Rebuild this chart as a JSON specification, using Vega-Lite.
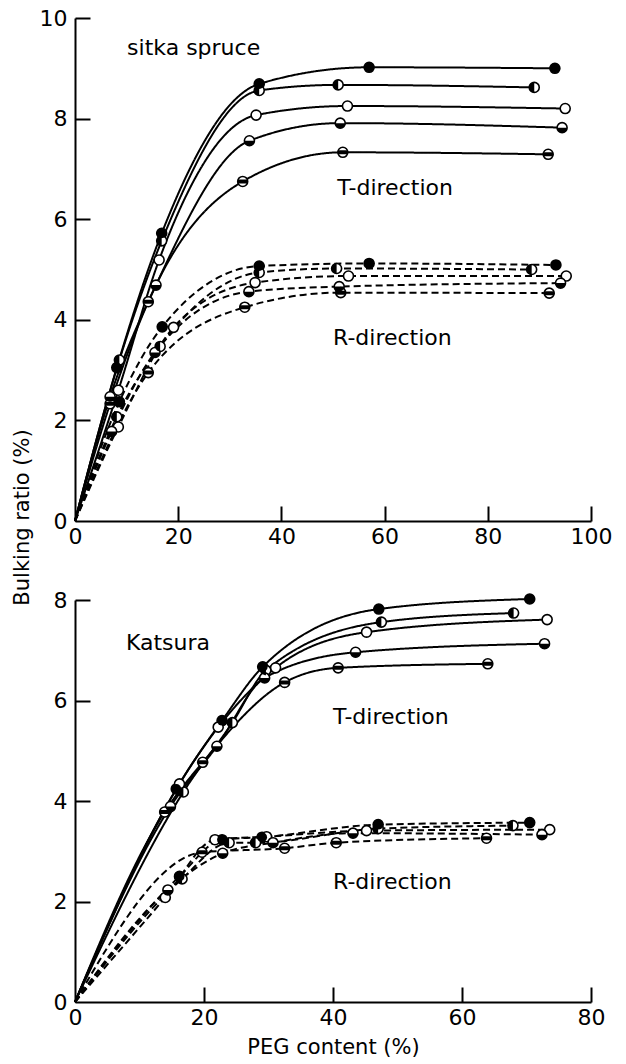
{
  "$schema": "https://vega.github.io/schema/vega-lite/v6.json",
  "autosize": {"type": "pad"},
  "padding": {"left": 11, "top": 7, "right": 5, "bottom": 5},
  "background": "white",
  "spacing": 79,
  "bounds": "flush",
  "config": {
    "view": {"stroke": null},
    "font": "DejaVu Sans",
    "axis": {
      "domainColor": "black", "domainWidth": 2, "tickColor": "black", "tickWidth": 2,
      "labelFontSize": 22, "labelColor": "black", "grid": false,
      "titleColor": "black", "titleFontSize": 21, "titleFontWeight": "normal",
      "labelFlush": false, "labelOverlap": false
    },
    "axisX": {"labelPadding": 5},
    "axisY": {"labelPadding": 8}
  },
  "datasets": {
    "top": [
      {"s": "T1", "d": "T", "m": "filled", "x": 0, "y": 0},
      {"s": "T1", "d": "T", "m": "filled", "x": 8.1, "y": 3.05},
      {"s": "T1", "d": "T", "m": "filled", "x": 16.8, "y": 5.72},
      {"s": "T1", "d": "T", "m": "filled", "x": 35.7, "y": 8.69},
      {"s": "T1", "d": "T", "m": "filled", "x": 57, "y": 9.02},
      {"s": "T1", "d": "T", "m": "filled", "x": 93, "y": 9.0},
      {"s": "T2", "d": "T", "m": "left", "x": 0, "y": 0},
      {"s": "T2", "d": "T", "m": "left", "x": 8.6, "y": 3.2},
      {"s": "T2", "d": "T", "m": "left", "x": 16.8, "y": 5.57},
      {"s": "T2", "d": "T", "m": "left", "x": 35.7, "y": 8.56},
      {"s": "T2", "d": "T", "m": "left", "x": 51, "y": 8.67},
      {"s": "T2", "d": "T", "m": "left", "x": 89, "y": 8.62},
      {"s": "T3", "d": "T", "m": "open", "x": 0, "y": 0},
      {"s": "T3", "d": "T", "m": "open", "x": 8.4, "y": 2.6},
      {"s": "T3", "d": "T", "m": "open", "x": 16.3, "y": 5.19},
      {"s": "T3", "d": "T", "m": "open", "x": 35.1, "y": 8.07},
      {"s": "T3", "d": "T", "m": "open", "x": 52.8, "y": 8.25},
      {"s": "T3", "d": "T", "m": "open", "x": 95, "y": 8.2},
      {"s": "T4", "d": "T", "m": "bottom", "x": 0, "y": 0},
      {"s": "T4", "d": "T", "m": "bottom", "x": 6.8, "y": 2.47},
      {"s": "T4", "d": "T", "m": "bottom", "x": 15.7, "y": 4.69},
      {"s": "T4", "d": "T", "m": "bottom", "x": 33.8, "y": 7.56},
      {"s": "T4", "d": "T", "m": "bottom", "x": 51.4, "y": 7.91},
      {"s": "T4", "d": "T", "m": "bottom", "x": 94.4, "y": 7.82},
      {"s": "T5", "d": "T", "m": "band", "x": 0, "y": 0},
      {"s": "T5", "d": "T", "m": "band", "x": 6.8, "y": 2.33},
      {"s": "T5", "d": "T", "m": "band", "x": 14.2, "y": 4.36},
      {"s": "T5", "d": "T", "m": "band", "x": 32.5, "y": 6.75},
      {"s": "T5", "d": "T", "m": "band", "x": 51.9, "y": 7.33},
      {"s": "T5", "d": "T", "m": "band", "x": 91.7, "y": 7.29},
      {"s": "R1", "d": "R", "m": "filled", "x": 0, "y": 0},
      {"s": "R1", "d": "R", "m": "filled", "x": 8.6, "y": 2.37},
      {"s": "R1", "d": "R", "m": "filled", "x": 16.9, "y": 3.86},
      {"s": "R1", "d": "R", "m": "filled", "x": 35.7, "y": 5.07},
      {"s": "R1", "d": "R", "m": "filled", "x": 57, "y": 5.12},
      {"s": "R1", "d": "R", "m": "filled", "x": 93.2, "y": 5.09},
      {"s": "R2", "d": "R", "m": "left", "x": 0, "y": 0},
      {"s": "R2", "d": "R", "m": "left", "x": 8.1, "y": 2.07},
      {"s": "R2", "d": "R", "m": "left", "x": 16.5, "y": 3.47},
      {"s": "R2", "d": "R", "m": "left", "x": 35.7, "y": 4.94},
      {"s": "R2", "d": "R", "m": "left", "x": 50.7, "y": 5.02},
      {"s": "R2", "d": "R", "m": "left", "x": 88.5, "y": 5.0},
      {"s": "R3", "d": "R", "m": "open", "x": 0, "y": 0},
      {"s": "R3", "d": "R", "m": "open", "x": 8.4, "y": 1.87},
      {"s": "R3", "d": "R", "m": "open", "x": 19.1, "y": 3.85},
      {"s": "R3", "d": "R", "m": "open", "x": 34.9, "y": 4.74},
      {"s": "R3", "d": "R", "m": "open", "x": 53, "y": 4.87},
      {"s": "R3", "d": "R", "m": "open", "x": 95.2, "y": 4.87},
      {"s": "R4", "d": "R", "m": "bottom", "x": 0, "y": 0},
      {"s": "R4", "d": "R", "m": "bottom", "x": 7.1, "y": 1.78},
      {"s": "R4", "d": "R", "m": "bottom", "x": 15.5, "y": 3.35},
      {"s": "R4", "d": "R", "m": "bottom", "x": 33.7, "y": 4.56},
      {"s": "R4", "d": "R", "m": "bottom", "x": 51.2, "y": 4.66},
      {"s": "R4", "d": "R", "m": "bottom", "x": 94.1, "y": 4.73},
      {"s": "R5", "d": "R", "m": "band", "x": 0, "y": 0},
      {"s": "R5", "d": "R", "m": "band", "x": 14.2, "y": 2.95},
      {"s": "R5", "d": "R", "m": "band", "x": 32.9, "y": 4.25},
      {"s": "R5", "d": "R", "m": "band", "x": 51.5, "y": 4.54},
      {"s": "R5", "d": "R", "m": "band", "x": 91.9, "y": 4.53}
    ],
    "bottom": [
      {"s": "T1", "d": "T", "m": "filled", "x": 0, "y": 0},
      {"s": "T1", "d": "T", "m": "filled", "x": 15.7, "y": 4.24},
      {"s": "T1", "d": "T", "m": "filled", "x": 22.8, "y": 5.6},
      {"s": "T1", "d": "T", "m": "filled", "x": 29.1, "y": 6.67},
      {"s": "T1", "d": "T", "m": "filled", "x": 47.1, "y": 7.82},
      {"s": "T1", "d": "T", "m": "filled", "x": 70.5, "y": 8.02},
      {"s": "T2", "d": "T", "m": "left", "x": 0, "y": 0},
      {"s": "T2", "d": "T", "m": "left", "x": 16.8, "y": 4.18},
      {"s": "T2", "d": "T", "m": "left", "x": 24.4, "y": 5.56},
      {"s": "T2", "d": "T", "m": "left", "x": 29.6, "y": 6.6},
      {"s": "T2", "d": "T", "m": "left", "x": 47.5, "y": 7.56},
      {"s": "T2", "d": "T", "m": "left", "x": 68, "y": 7.74},
      {"s": "T3", "d": "T", "m": "open", "x": 0, "y": 0},
      {"s": "T3", "d": "T", "m": "open", "x": 16.2, "y": 4.34},
      {"s": "T3", "d": "T", "m": "open", "x": 22.2, "y": 5.47},
      {"s": "T3", "d": "T", "m": "open", "x": 31.1, "y": 6.65},
      {"s": "T3", "d": "T", "m": "open", "x": 45.2, "y": 7.36},
      {"s": "T3", "d": "T", "m": "open", "x": 73.2, "y": 7.61},
      {"s": "T4", "d": "T", "m": "bottom", "x": 0, "y": 0},
      {"s": "T4", "d": "T", "m": "bottom", "x": 14.8, "y": 3.89},
      {"s": "T4", "d": "T", "m": "bottom", "x": 22.0, "y": 5.09},
      {"s": "T4", "d": "T", "m": "bottom", "x": 29.4, "y": 6.45},
      {"s": "T4", "d": "T", "m": "bottom", "x": 43.5, "y": 6.96},
      {"s": "T4", "d": "T", "m": "bottom", "x": 72.8, "y": 7.13},
      {"s": "T5", "d": "T", "m": "band", "x": 0, "y": 0},
      {"s": "T5", "d": "T", "m": "band", "x": 13.9, "y": 3.78},
      {"s": "T5", "d": "T", "m": "band", "x": 19.8, "y": 4.77},
      {"s": "T5", "d": "T", "m": "band", "x": 32.5, "y": 6.36},
      {"s": "T5", "d": "T", "m": "band", "x": 40.8, "y": 6.65},
      {"s": "T5", "d": "T", "m": "band", "x": 64, "y": 6.73},
      {"s": "R1", "d": "R", "m": "filled", "x": 0, "y": 0},
      {"s": "R1", "d": "R", "m": "filled", "x": 16.2, "y": 2.5},
      {"s": "R1", "d": "R", "m": "filled", "x": 22.8, "y": 3.23},
      {"s": "R1", "d": "R", "m": "filled", "x": 29.0, "y": 3.28},
      {"s": "R1", "d": "R", "m": "filled", "x": 47.0, "y": 3.53},
      {"s": "R1", "d": "R", "m": "filled", "x": 70.5, "y": 3.57},
      {"s": "R2", "d": "R", "m": "left", "x": 0, "y": 0},
      {"s": "R2", "d": "R", "m": "left", "x": 16.6, "y": 2.45},
      {"s": "R2", "d": "R", "m": "left", "x": 23.9, "y": 3.17},
      {"s": "R2", "d": "R", "m": "left", "x": 28.0, "y": 3.17},
      {"s": "R2", "d": "R", "m": "left", "x": 47.0, "y": 3.45},
      {"s": "R2", "d": "R", "m": "left", "x": 67.9, "y": 3.51},
      {"s": "R3", "d": "R", "m": "open", "x": 0, "y": 0},
      {"s": "R3", "d": "R", "m": "open", "x": 14.0, "y": 2.08},
      {"s": "R3", "d": "R", "m": "open", "x": 21.7, "y": 3.23},
      {"s": "R3", "d": "R", "m": "open", "x": 29.7, "y": 3.29},
      {"s": "R3", "d": "R", "m": "open", "x": 45.2, "y": 3.41},
      {"s": "R3", "d": "R", "m": "open", "x": 73.6, "y": 3.43},
      {"s": "R4", "d": "R", "m": "bottom", "x": 0, "y": 0},
      {"s": "R4", "d": "R", "m": "bottom", "x": 14.4, "y": 2.23},
      {"s": "R4", "d": "R", "m": "bottom", "x": 22.9, "y": 2.96},
      {"s": "R4", "d": "R", "m": "bottom", "x": 30.7, "y": 3.17},
      {"s": "R4", "d": "R", "m": "bottom", "x": 43.1, "y": 3.36},
      {"s": "R4", "d": "R", "m": "bottom", "x": 72.4, "y": 3.33},
      {"s": "R5", "d": "R", "m": "band", "x": 0, "y": 0},
      {"s": "R5", "d": "R", "m": "band", "x": 19.7, "y": 2.98},
      {"s": "R5", "d": "R", "m": "band", "x": 32.5, "y": 3.06},
      {"s": "R5", "d": "R", "m": "band", "x": 40.5, "y": 3.17},
      {"s": "R5", "d": "R", "m": "band", "x": 63.8, "y": 3.26}
    ],
    "topLabels": [
      {"x": 10.1, "y": 9.4, "t": "sitka spruce"},
      {"x": 50.8, "y": 6.62, "t": "T-direction"},
      {"x": 50, "y": 3.64, "t": "R-direction"}
    ],
    "bottomLabels": [
      {"x": 7.9, "y": 7.15, "t": "Katsura"},
      {"x": 40, "y": 5.68, "t": "T-direction"},
      {"x": 40, "y": 2.39, "t": "R-direction"}
    ]
  },
  "vconcat": [
    {
      "width": 516,
      "height": 503,
      "resolve": {"axis": {"x": "independent", "y": "independent"}},
      "layer": [
        {
          "data": {"name": "top"},
          "mark": {"type": "line", "interpolate": "monotone", "color": "black", "strokeWidth": 2},
          "encoding": {
            "x": {"field": "x", "type": "quantitative", "scale": {"domain": [0, 100], "nice": false}, "axis": {"values": [0, 20, 40, 60, 80, 100], "title": null, "ticks": false}},
            "y": {"field": "y", "type": "quantitative", "scale": {"domain": [0, 10], "nice": false}, "axis": {"values": [0, 2, 4, 6, 8, 10], "ticks": false, "title": "Bulking ratio (%)", "titleX": -53, "titleY": 499, "titleAngle": -90, "titleAlign": "center", "titleBaseline": "middle"}},
            "detail": {"field": "s"},
            "order": {"field": "x", "type": "quantitative"},
            "strokeDash": {"field": "d", "type": "nominal", "scale": {"domain": ["T", "R"], "range": [[1, 0], [7, 4]]}, "legend": null}
          }
        },
        {
          "data": {"name": "top"},
          "transform": [{"filter": "datum.x > 0"}],
          "mark": {"type": "point", "shape": "circle", "filled": false, "fill": "white", "fillOpacity": 1, "stroke": "black", "strokeWidth": 1.6, "size": 100, "opacity": 1},
          "encoding": {
            "x": {"field": "x", "type": "quantitative", "axis": {"orient": "top", "offset": -503, "values": [20, 40, 60, 80, 100], "labels": false, "domain": false, "tickSize": 15, "title": null}},
            "y": {"field": "y", "type": "quantitative", "axis": {"orient": "right", "offset": -516, "values": [2, 4, 6, 8, 10], "labels": false, "domain": false, "tickSize": 15, "title": null}}
          }
        },
        {
          "data": {"name": "top"},
          "transform": [{"filter": "datum.x > 0 && datum.m != 'open'"}],
          "mark": {"type": "point", "filled": true, "color": "black", "opacity": 1, "strokeWidth": 0, "size": 100},
          "encoding": {
            "x": {"field": "x", "type": "quantitative", "axis": null},
            "y": {"field": "y", "type": "quantitative", "axis": null},
            "shape": {"field": "m", "type": "nominal", "legend": null, "scale": {"domain": ["filled", "left", "bottom", "band"], "range": ["circle", "M0,-1A1,1 0 0,0 0,1Z", "M-1,0A1,1 0 0,0 1,0Z", "M-0.917,-0.4L0.917,-0.4A1,1 0 0,1 0.917,0.4L-0.917,0.4A1,1 0 0,1 -0.917,-0.4Z"]}}
          }
        },
        {
          "data": {"name": "topLabels"},
          "mark": {"type": "text", "align": "left", "baseline": "middle", "fontSize": 22, "color": "black"},
          "encoding": {
            "x": {"field": "x", "type": "quantitative", "axis": null},
            "y": {"field": "y", "type": "quantitative", "axis": null},
            "text": {"field": "t"}
          }
        }
      ]
    },
    {
      "width": 516,
      "height": 402,
      "resolve": {"axis": {"x": "independent", "y": "independent"}},
      "layer": [
        {
          "data": {"name": "bottom"},
          "mark": {"type": "line", "interpolate": "monotone", "color": "black", "strokeWidth": 2},
          "encoding": {
            "x": {"field": "x", "type": "quantitative", "scale": {"domain": [0, 80], "nice": false}, "axis": {"values": [0, 20, 40, 60, 80], "ticks": false, "title": "PEG content (%)", "titlePadding": 8}},
            "y": {"field": "y", "type": "quantitative", "scale": {"domain": [0, 8], "nice": false}, "axis": {"values": [0, 2, 4, 6, 8], "ticks": false, "title": null}},
            "detail": {"field": "s"},
            "order": {"field": "x", "type": "quantitative"},
            "strokeDash": {"field": "d", "type": "nominal", "scale": {"domain": ["T", "R"], "range": [[1, 0], [7, 4]]}, "legend": null}
          }
        },
        {
          "data": {"name": "bottom"},
          "transform": [{"filter": "datum.x > 0"}],
          "mark": {"type": "point", "shape": "circle", "filled": false, "fill": "white", "fillOpacity": 1, "stroke": "black", "strokeWidth": 1.6, "size": 100, "opacity": 1},
          "encoding": {
            "x": {"field": "x", "type": "quantitative", "axis": {"orient": "top", "offset": -402, "values": [20, 40, 60, 80], "labels": false, "domain": false, "tickSize": 15, "title": null}},
            "y": {"field": "y", "type": "quantitative", "axis": {"orient": "right", "offset": -516, "values": [2, 4, 6, 8], "labels": false, "domain": false, "tickSize": 15, "title": null}}
          }
        },
        {
          "data": {"name": "bottom"},
          "transform": [{"filter": "datum.x > 0 && datum.m != 'open'"}],
          "mark": {"type": "point", "filled": true, "color": "black", "opacity": 1, "strokeWidth": 0, "size": 100},
          "encoding": {
            "x": {"field": "x", "type": "quantitative", "axis": null},
            "y": {"field": "y", "type": "quantitative", "axis": null},
            "shape": {"field": "m", "type": "nominal", "legend": null, "scale": {"domain": ["filled", "left", "bottom", "band"], "range": ["circle", "M0,-1A1,1 0 0,0 0,1Z", "M-1,0A1,1 0 0,0 1,0Z", "M-0.917,-0.4L0.917,-0.4A1,1 0 0,1 0.917,0.4L-0.917,0.4A1,1 0 0,1 -0.917,-0.4Z"]}}
          }
        },
        {
          "data": {"name": "bottomLabels"},
          "mark": {"type": "text", "align": "left", "baseline": "middle", "fontSize": 22, "color": "black"},
          "encoding": {
            "x": {"field": "x", "type": "quantitative", "axis": null},
            "y": {"field": "y", "type": "quantitative", "axis": null},
            "text": {"field": "t"}
          }
        }
      ]
    }
  ]
}
